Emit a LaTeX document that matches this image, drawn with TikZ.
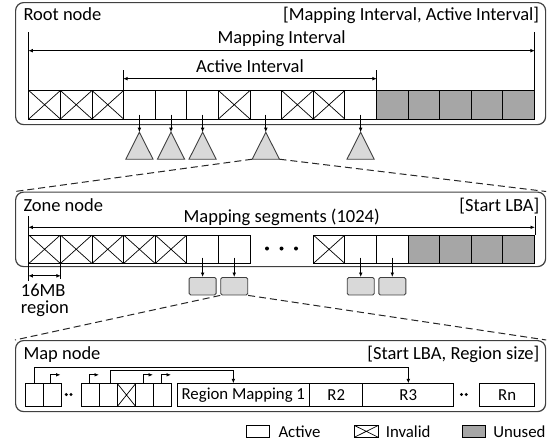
\documentclass[tikz,border=0pt]{standalone}
\usepackage{fontspec}
\setmainfont{Carlito}
\usepackage{tikz}
\usetikzlibrary{arrows.meta, positioning}

\definecolor{unusedgray}{HTML}{A6A6A6}
\definecolor{trigray}{HTML}{D9D9D9}
\definecolor{edgegray}{HTML}{404040}

\begin{document}
\begin{tikzpicture}[x=1pt, y=-1pt,
>={Latex[length=4.5pt,width=3.8pt]},
every node/.style={font=\fontsize{18.5}{22}\selectfont},
lbl/.style={inner sep=0pt},
small/.style={font=\fontsize{16.8}{20}\selectfont},
panel/.style={rectangle, draw=edgegray, line width=1.2pt, rounded corners=8pt, minimum width=530pt, inner sep=0pt, anchor=north west},
active/.style={rectangle, draw, line width=1pt, minimum width=31.6pt, minimum height=28.5pt, inner sep=0pt, anchor=north west},
invalid/.style={active, path picture={\draw[line width=0.7pt] (path picture bounding box.north west) -- (path picture bounding box.south east) (path picture bounding box.south west) -- (path picture bounding box.north east);}},
unused/.style={active, fill=unusedgray},
mcell/.style={active, minimum width=18pt, minimum height=22.4pt},
mcellx/.style={invalid, minimum width=18pt, minimum height=22.4pt},
seg/.style={rectangle, draw=edgegray, fill=trigray, line width=0.9pt, rounded corners=1.5pt, minimum width=27pt, minimum height=17.5pt, inner sep=0pt},
tri/.style={draw=edgegray, fill=trigray, line width=0.9pt},
zoomline/.style={draw=black!85, line width=1pt, dash pattern=on 7pt off 4pt},
link/.style={line width=0.9pt}
]
	\useasboundingbox (0,0) rectangle (553,442);

	% root node
	\node[panel, minimum height=122pt] (root) at (15,2) {};
	\node[lbl, anchor=base west] (roottitle) at (23.3,20) {Root node};
	\node[lbl, anchor=base east] (rootkey) at (539.3,20) {[Mapping Interval, Active Interval]};
	\foreach \t [count=\i] in {invalid,invalid,invalid,active,active,active,invalid,active,invalid,invalid,active,unused,unused,unused,unused,unused}
		\node[\t] (r\i) at ({28.3+(\i-1)*31.6},90) {};

	\draw[link] (r1.north west) -- ++(0,-58);
	\draw[link] (r16.north east) -- ++(0,-58);
	\draw[link, <->] ([yshift=39.3pt]r1.north west) -- node[lbl, anchor=base, yshift=7.4pt] {Mapping Interval} ([yshift=39.3pt]r16.north east);
	\draw[link] (r4.north west) -- ++(0,-20);
	\draw[link] (r11.north east) -- ++(0,-20);
	\draw[link, <->] ([yshift=11.3pt]r4.north west) -- node[lbl, anchor=base, yshift=6pt] {Active Interval} ([yshift=11.3pt]r11.north east);

	% subtrees
	\foreach \i in {4,5,6,8,11} {
		\path (r\i.south) ++(0,12.7) coordinate (t\i);
		\draw[tri] (t\i) -- ++(13.6,27) -- ++(-27.2,0) -- cycle;
		\draw[link, ->] ([yshift=5pt]r\i.south) -- (t\i);
	}
	\path (t8) ++(-13.6,27) coordinate (t8l) ++(27.2,0) coordinate (t8r);

	% zone node
	\node[panel, minimum height=74.5pt] (zone) at (15,191.5) {};
	\node[lbl, anchor=base west] (zonetitle) at (23.3,211) {Zone node};
	\node[lbl, anchor=base east] (zonekey) at (539.5,211) {[Start LBA]};
	\foreach \t [count=\i] in {invalid,invalid,invalid,invalid,invalid,active,active}
		\node[\t] (z\i) at ({28.3+(\i-1)*31.6},234.5) {};
	\foreach \t [count=\i from 8] in {invalid,active,active,unused,unused,unused,unused}
		\node[\t] (z\i) at ({312.8+(\i-8)*31.6},234.5) {};
	\foreach \x in {267,281.5,296}
		\fill (\x,248.5) circle (2);

	\draw[zoomline] (t8l) -- (zone.north west);
	\draw[zoomline] (t8r) -- (zone.north east);

	\draw[link] (z1.north west) -- ++(0,-18.5);
	\draw[link] (z14.north east) -- ++(0,-18.5);
	\draw[link, <->] ([yshift=7.2pt]z1.north west) -- node[lbl, anchor=base, yshift=4.9pt] {Mapping segments (1024)} ([yshift=7.2pt]z14.north east);

	\draw[link] (z1.south west) -- ++(0,16.5);
	\draw[link] (z1.south east) -- ++(0,14.5);
	\draw[link, <->] ([yshift=-11.8pt]z1.south west) -- ([yshift=-11.8pt]z1.south east);
	\node[lbl, align=left, anchor=north west, font=\fontsize{18.5}{17}\selectfont] (regionsize) at (20.7,283.3) {16MB\\region};

	\foreach \i in {6,7,9,10} {
		\node[seg, below=13pt of z\i] (s\i) {};
		\draw[link, ->] ([yshift=6.5pt]z\i.south) -- (s\i);
	}

	% map node
	\node[panel, minimum height=71pt] (map) at (15,340) {};
	\node[lbl, anchor=base west] (maptitle) at (23.3,359.5) {Map node};
	\node[lbl, anchor=base east] (mapkey) at (539.5,359.5) {[Start LBA, Region size]};

	\draw[zoomline] (s7.south west) -- (map.north west);
	\draw[zoomline] (s7.south east) -- (map.north east);

	\node[mcell] (m1) at (24.5,383.3) {};
	\node[mcell] (m2) at (42.5,383.3) {};
	\node[mcell] (m3) at (81,383.3) {};
	\node[mcell] (m4) at (99,383.3) {};
	\node[mcellx] (m5) at (117,383.3) {};
	\node[mcell] (m6) at (135,383.3) {};
	\node[mcell] (m7) at (153,383.3) {};
	\node[mcell, small, minimum width=132.7pt] (rm1) at (176.5,383.3) {Region Mapping 1};
	\node[mcell, small, minimum width=53.2pt] (rm2) at (309.2,383.3) {R2};
	\node[mcell, small, minimum width=90.8pt] (rm3) at (362.4,383.3) {R3};
	\node[mcell, small, minimum width=54.6pt] (rmn) at (479.4,383.3) {Rn};
	\foreach \x in {66.3,71,461.5,466.2}
		\fill (\x,394.5) circle (1.7);

	\draw[link, ->] (m1.north) -- ++(0,-15.8) -| (rm3.north);
	\draw[link, ->] ([xshift=1.5pt]m4.north) -- ++(0,-12.5) -| ([xshift=-10pt]rm1.north);
	\foreach \c in {m2,m3,m6,m7}
		\draw[link, ->] ([xshift=-1.5pt]\c.north) |- ++(10,-8.5);

	% legend
	\node[active, minimum width=23.6pt, minimum height=11.7pt] (lgact) at (245.7,425) {};
	\node[lbl, small, anchor=base west] at ([xshift=8pt]lgact.south east) {Active};
	\node[invalid, minimum width=23.6pt, minimum height=11.7pt] (lginv) at (354,425) {};
	\node[lbl, small, anchor=base west] at ([xshift=7pt]lginv.south east) {Invalid};
	\node[unused, minimum width=23.6pt, minimum height=11.7pt] (lgunu) at (461.5,425) {};
	\node[lbl, small, anchor=base west] at ([xshift=7pt]lgunu.south east) {Unused};
\end{tikzpicture}
\end{document}
